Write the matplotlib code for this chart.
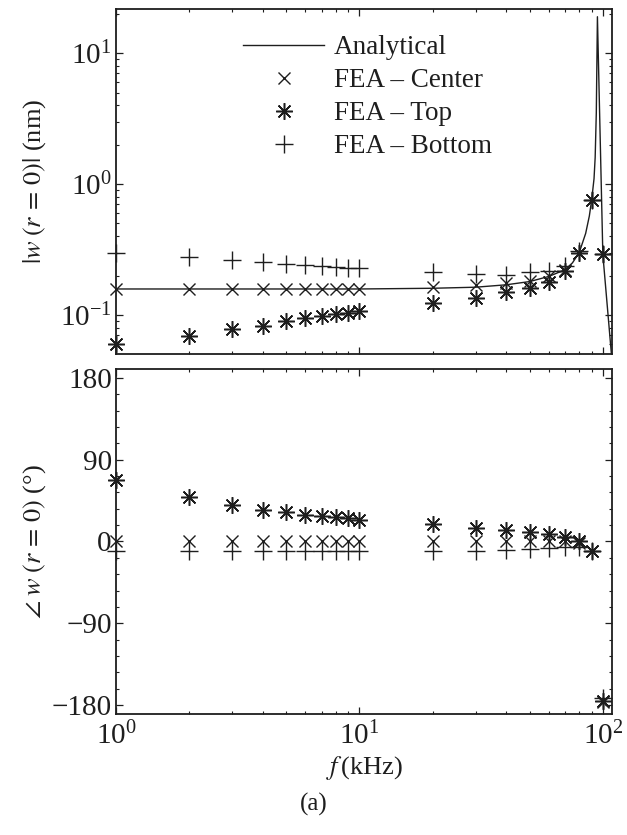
import matplotlib
matplotlib.use('Agg')
import matplotlib.pyplot as plt
from matplotlib.ticker import MultipleLocator, NullFormatter

plt.rcParams['font.family'] = ['Liberation Serif', 'DejaVu Serif']
plt.rcParams['mathtext.fontset'] = 'stix'
plt.rcParams['font.size'] = 18

# frequencies of FEA samples (kHz)
freq = [1, 2, 3, 4, 5, 6, 7, 8, 9, 10, 20, 30, 40, 50, 60, 70, 80, 90, 100]

# |w(r=0)| (nm)
mag_center = [0.158, 0.158, 0.158, 0.158, 0.158, 0.158, 0.158, 0.158, 0.158, 0.158,
              0.164, 0.170, 0.175, 0.183, 0.200, 0.220, 0.297, 0.76, 0.29]
mag_top = [0.060, 0.069, 0.078, 0.083, 0.0895, 0.094, 0.098, 0.102, 0.104, 0.107,
           0.123, 0.136, 0.149, 0.160, 0.180, 0.215, 0.297, 0.76, 0.29]
mag_bottom = [0.300, 0.275, 0.262, 0.254, 0.247, 0.240, 0.235, 0.232, 0.229, 0.229,
              0.212, 0.205, 0.203, 0.212, 0.215, 0.235, 0.306, 0.76, 0.29]

# phase (deg)
ph_center = [0, 0, 0, 0, 0, 0, 0, 0, 0, 0, 0, 0, 0, 0, 0, 1, -2, -10, -177]
ph_top = [68, 49, 40, 35, 32.4, 29.4, 28.3, 26.5, 25.4, 24,
          19, 15.4, 12.9, 10, 8, 5.5, 0, -10, -176]
ph_bottom = [-11, -11, -11, -11, -11, -11, -11, -11, -11, -11,
             -11, -11, -9, -8.5, -7.5, -6, -6, -11, -172]

# analytical curve
freq_an = [1, 10, 20, 30, 40, 50, 60, 70, 75, 80, 85, 88, 90, 92, 93, 94, 95, 100, 109]
mag_an = [0.158, 0.158, 0.160, 0.163, 0.170, 0.180, 0.197, 0.222, 0.25, 0.30,
          0.42, 0.57, 0.76, 1.1, 1.6, 3.5, 19.0, 0.29, 0.045]

ink = '#1e1e1e'
star = (8, 2, 0)

fig = plt.figure(figsize=(6.27, 8.35), dpi=100)
ax1 = fig.add_axes([0.185, 0.576, 0.791, 0.413])
ax2 = fig.add_axes([0.185, 0.145, 0.791, 0.413])

mk = dict(linestyle='none', color=ink, clip_on=False, zorder=3)

ax1.plot(freq_an, mag_an, '-', color=ink, lw=1.0, label='Analytical')
ax1.plot(freq, mag_center, marker='x', ms=9, mew=1.0, label='FEA – Center', **mk)
ax1.plot(freq, mag_top, marker=star, ms=12, mew=1.1, label='FEA – Top', **mk)
ax1.plot(freq, mag_bottom, marker='+', ms=13, mew=1.0, label='FEA – Bottom', **mk)
ax1.set_xscale('log')
ax1.set_yscale('log')
ax1.set_xlim(1, 109)
ax1.set_ylim(0.0503, 21.7)
ax1.xaxis.set_major_formatter(NullFormatter())
ax1.xaxis.set_minor_formatter(NullFormatter())
ax1.set_ylabel(r'$|w\;(r\,=\,0)|$ (nm)', color=ink, fontsize=19)
ax1.yaxis.set_label_coords(-0.137, 0.5)
ax1.legend(loc='upper left', bbox_to_anchor=(0.256, 0.925), frameon=False,
           handlelength=3.0, handletextpad=0.35, labelspacing=0.3,
           borderpad=0, borderaxespad=0, fontsize=19.5, labelcolor=ink)

ax2.plot(freq, ph_center, marker='x', ms=9, mew=1.0, **mk)
ax2.plot(freq, ph_top, marker=star, ms=12, mew=1.1, **mk)
ax2.plot(freq, ph_bottom, marker='+', ms=13, mew=1.0, **mk)
ax2.set_xscale('log')
ax2.set_xlim(1, 109)
ax2.set_ylim(-190, 190)
ax2.yaxis.set_major_locator(MultipleLocator(90))
ax2.yaxis.set_minor_locator(MultipleLocator(18))
ax2.set_ylabel(r'$\angle\;w\;(r\,=\,0)$ (°)', color=ink, fontsize=19)
ax2.yaxis.set_label_coords(-0.137, 0.5)
ax2.set_xlabel(r'$f\,$(kHz)', color=ink, fontsize=19, labelpad=2)

for ax in (ax1, ax2):
    ax.tick_params(which='both', direction='in', top=True, right=True,
                   colors=ink, labelsize=21)
    ax.tick_params(which='major', length=5, width=0.9)
    ax.tick_params(which='minor', length=2.5, width=0.8)
    ax.tick_params(axis='y', which='major', pad=3)
    ax.tick_params(axis='x', which='major', pad=6)
    for s in ax.spines.values():
        s.set_linewidth(1.3)
        s.set_color(ink)

fig.text(0.5, 0.036, '(a)', ha='center', va='center', fontsize=18, color=ink)

fig.savefig('out.png', dpi=100)
